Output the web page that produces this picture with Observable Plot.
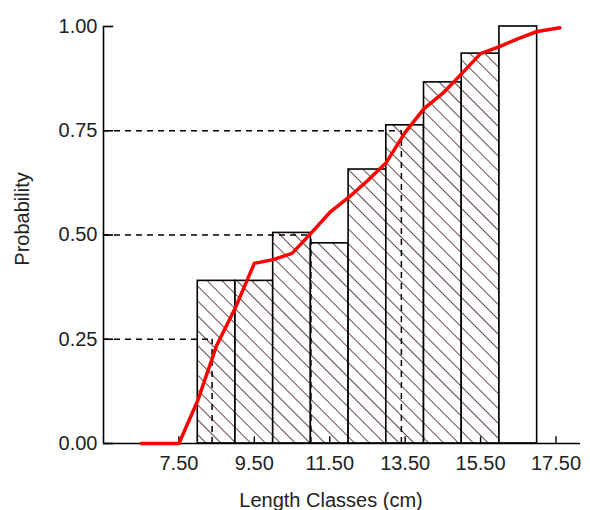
<!DOCTYPE html>
<html>
<head>
<meta charset="utf-8">
<script src="https://cdn.jsdelivr.net/npm/d3@7"></script>
<script src="https://cdn.jsdelivr.net/npm/@observablehq/plot@0.6"></script>
<style>
  html, body { margin: 0; padding: 0; background: #fff; }
  svg { display: block; }
</style>
</head>
<body>
<div id="chart"></div>
<script>
// Length classes (lower bound, cm) and bar probabilities
const classLower = [8, 9, 10, 11, 12, 13, 14, 15, 16];
const barProb = [0.39, 0.39, 0.505, 0.48, 0.657, 0.763, 0.866, 0.935, 1.0];
const barHatched = [true, true, true, true, true, true, true, true, false];

// Fitted selection curve (red)
const curveLen = [6.5, 7.5, 8.0, 8.5, 9.0, 9.5, 10.0, 10.5, 11.0, 11.5, 12.0, 12.5, 13.0, 13.5, 14.0, 14.5, 15.0, 15.5, 16.0, 16.5, 17.0, 17.6];
const curveProb = [0, 0, 0.103, 0.235, 0.326, 0.432, 0.441, 0.456, 0.504, 0.554, 0.59, 0.63, 0.674, 0.746, 0.803, 0.84, 0.887, 0.935, 0.952, 0.971, 0.988, 0.997];

// Quartile reference lines (L25, L50, L75)
const quartileProb = [0.25, 0.5, 0.75];
const quartileLen = [8.38, 11.0, 13.4];

// Tick labels
const xTicks = [7.5, 9.5, 11.5, 13.5, 15.5, 17.5];
const yTicks = [0, 0.25, 0.5, 0.75, 1.0];
const xDomain = [5.5, 18.15];

const bars = classLower.map((lo, i) => ({lo, hi: lo + 1, p: barProb[i], hatched: barHatched[i]}));
const curve = curveLen.map((x, i) => ({x, p: curveProb[i]}));
const quart = quartileProb.map((p, i) => ({p, L: quartileLen[i]}));

const font = "'Liberation Sans', Arial, sans-serif";
const ink = "#222";

const chart = Plot.plot({
  width: 590,
  height: 510,
  marginLeft: 103,
  marginRight: 10,
  marginTop: 26,
  marginBottom: 67,
  style: {fontFamily: font, fontSize: "20px", background: "white", color: ink},
  x: {domain: xDomain, axis: null},
  y: {domain: [0, 1], axis: null},
  marks: [
    Plot.rectY(bars.filter(d => d.hatched), {x1: "lo", x2: "hi", y1: 0, y2: "p", fill: "url(#hatch)", stroke: "black", strokeWidth: 1.6}),
    Plot.rectY(bars.filter(d => !d.hatched), {x1: "lo", x2: "hi", y1: 0, y2: "p", fill: "white", stroke: "black", strokeWidth: 1.6}),
    Plot.ruleY(quart, {y: "p", x1: xDomain[0], x2: "L", stroke: "black", strokeWidth: 1.5, strokeDasharray: "6,5"}),
    Plot.ruleX(quart, {x: "L", y1: 0, y2: "p", stroke: "black", strokeWidth: 1.5, strokeDasharray: "6,5"}),
    // axes
    Plot.ruleX([xDomain[0]], {y1: 0, y2: 1, stroke: "black", strokeWidth: 1.6}),
    Plot.ruleY([0], {x1: xDomain[0], x2: xDomain[1], stroke: "black", strokeWidth: 1.6}),
    Plot.ruleY(yTicks, {x1: xDomain[0], x2: xDomain[0] + 0.27, stroke: "black", strokeWidth: 1.6}),
    Plot.ruleX(xTicks, {y1: 0, y2: 0.016, stroke: "black", strokeWidth: 1.4}),
    Plot.text(yTicks, {x: xDomain[0], y: d => d, text: d => d.toFixed(2), textAnchor: "end", dx: -6, fill: ink}),
    Plot.text(xTicks, {x: d => d, y: 0, text: d => d.toFixed(2), dy: 20, fill: ink}),
    Plot.text(["Length Classes (cm)"], {frameAnchor: "bottom", textAnchor: "middle", lineAnchor: "middle", dx: -11, dy: 57, fill: ink, letterSpacing: "0.9px"}),
    Plot.text(["Probability"], {frameAnchor: "left", textAnchor: "middle", lineAnchor: "middle", rotate: -90, dx: -81, dy: -16, fill: ink}),
    // fitted curve
    Plot.line(curve, {x: "x", y: "p", stroke: "#ff0000", strokeWidth: 3.5, strokeLinejoin: "round", curve: "linear"})
  ]
});

d3.select(chart).insert("defs", ":first-child").html(
  `<pattern id="hatch" patternUnits="userSpaceOnUse" width="10.5" height="10.5" patternTransform="rotate(-45)">
     <rect width="10.5" height="10.5" fill="white"></rect>
     <line x1="0" y1="0" x2="0" y2="10.5" stroke="#3a1010" stroke-width="1.5"></line>
   </pattern>`
);

document.getElementById("chart").appendChild(chart);
</script>
</body>
</html>
